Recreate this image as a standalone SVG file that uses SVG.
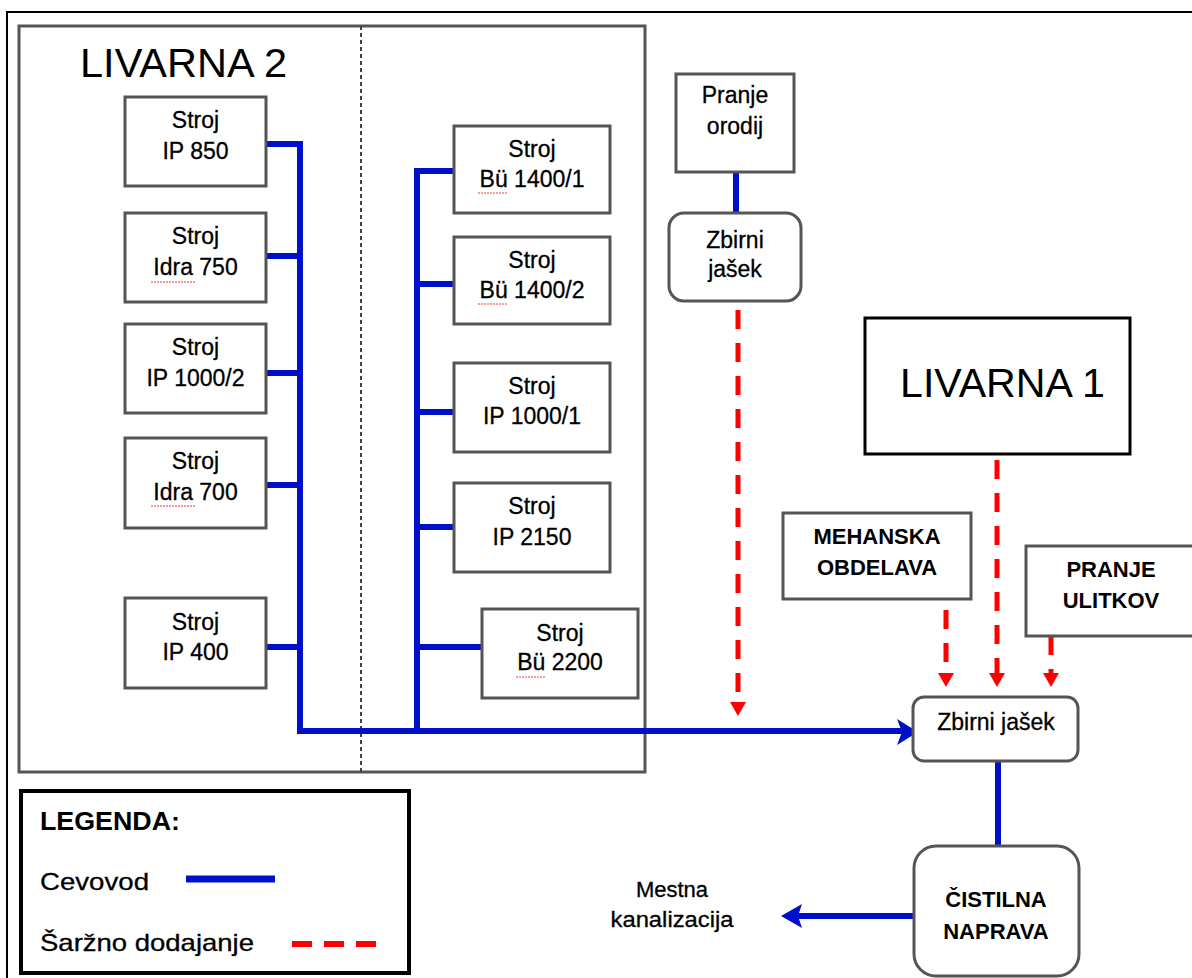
<svg xmlns="http://www.w3.org/2000/svg" width="1192" height="978" viewBox="0 0 1192 978">
<style>
text{font-family:"Liberation Sans",Arial,sans-serif;fill:#000}
.t{font-size:23px;text-anchor:middle;stroke:#000;stroke-width:0.3}
.b{font-size:22px;font-weight:bold;text-anchor:middle}
.box{fill:#fff;stroke:#555;stroke-width:3}
.pipe{fill:none;stroke:#0010c8;stroke-width:6}
.dash{fill:none;stroke:#ff0000;stroke-width:5;stroke-dasharray:19 14}
.sq{fill:none;stroke:#f08080;stroke-width:1.5;stroke-dasharray:2 1}
.rh{fill:#ff0000}
.bh{fill:#0010c8}
</style>
<rect width="1192" height="978" fill="#fff"/>
<rect x="7" y="12" width="1200" height="1000" fill="none" stroke="#000" stroke-width="2"/>
<g id="livarna2">
<rect x="19" y="26" width="626" height="746" fill="none" stroke="#555" stroke-width="3"/>
<line x1="361" y1="26" x2="361" y2="772" stroke="#444" stroke-width="2" stroke-dasharray="4 3"/>
<text x="80" y="77" style="font-size:41px" textLength="207" lengthAdjust="spacingAndGlyphs">LIVARNA 2</text>
</g>
<g id="connectors">
<path class="pipe" d="M266,144 H300 V731 H902 M266,256 H300 M266,373 H300 M266,485 H300 M266,647 H300"/>
<path class="pipe" d="M454,171 H417 V731 M454,284 H417 M454,412 H417 M454,527 H417 M482,647 H417"/>
<path class="bh" d="M918,732 L897,719 L902,732 L897,745 Z"/>
<path class="pipe" d="M736,172 V213"/>
<path class="pipe" d="M998,761 V846"/>
<path class="pipe" d="M914,916 H797"/>
<path class="bh" d="M781,916 L802,904 L798,916 L802,928 Z"/>
<path class="dash" d="M738,310 V704"/>
<path class="rh" d="M730,702 H746 L738,716 Z"/>
<path class="dash" d="M997,460 V674"/>
<path class="rh" d="M989,673 H1005 L997,687 Z"/>
<path class="dash" d="M946,610 V674"/>
<path class="rh" d="M938,673 H954 L946,687 Z"/>
<path class="dash" d="M1051,636 V674"/>
<path class="rh" d="M1043,673 H1059 L1051,687 Z"/>
</g>
<g id="ip850"><rect class="box" x="125" y="97" width="141" height="89"/><text class="t" x="195.5" y="128">Stroj</text><text class="t" x="195.5" y="159">IP 850</text></g>
<g id="idra750"><rect class="box" x="125" y="213" width="141" height="89"/><text class="t" x="195.5" y="244">Stroj</text><text class="t" x="195.5" y="275">Idra 750</text><path class="sq" d="M151,282 H196"/></g>
<g id="ip1000-2"><rect class="box" x="125" y="324" width="141" height="89"/><text class="t" x="195.5" y="355">Stroj</text><text class="t" x="195.5" y="386">IP 1000/2</text></g>
<g id="idra700"><rect class="box" x="125" y="438" width="141" height="90"/><text class="t" x="195.5" y="469">Stroj</text><text class="t" x="195.5" y="500">Idra 700</text><path class="sq" d="M151,506 H196"/></g>
<g id="ip400"><rect class="box" x="125" y="598" width="141" height="90"/><text class="t" x="195.5" y="630">Stroj</text><text class="t" x="195.5" y="660">IP 400</text></g>
<g id="bu1400-1"><rect class="box" x="454" y="126" width="156" height="87"/><text class="t" x="532" y="157">Stroj</text><text class="t" x="532" y="187">Bü 1400/1</text><path class="sq" d="M478,193 H507"/></g>
<g id="bu1400-2"><rect class="box" x="454" y="237" width="156" height="87"/><text class="t" x="532" y="268">Stroj</text><text class="t" x="532" y="298">Bü 1400/2</text><path class="sq" d="M478,304 H507"/></g>
<g id="ip1000-1"><rect class="box" x="454" y="363" width="156" height="89"/><text class="t" x="532" y="394">Stroj</text><text class="t" x="532" y="424">IP 1000/1</text></g>
<g id="ip2150"><rect class="box" x="454" y="483" width="156" height="89"/><text class="t" x="532" y="514">Stroj</text><text class="t" x="532" y="545">IP 2150</text></g>
<g id="bu2200"><rect class="box" x="482" y="609" width="156" height="89"/><text class="t" x="560" y="641">Stroj</text><text class="t" x="560" y="670">Bü 2200</text><path class="sq" d="M516,677 H545"/></g>
<g id="pranje-orodij"><rect class="box" x="676" y="74" width="118" height="98"/><text class="t" x="735" y="103">Pranje</text><text class="t" x="735" y="134">orodij</text></g>
<g id="zbirni-top"><rect class="box" x="669" y="213" width="132" height="88" rx="15"/><text class="t" x="735" y="248">Zbirni</text><text class="t" x="735" y="277">jašek</text></g>
<g id="livarna1"><rect x="865" y="318" width="265" height="136" fill="#fff" stroke="#000" stroke-width="3"/><text x="900" y="397" style="font-size:41px" textLength="205" lengthAdjust="spacingAndGlyphs">LIVARNA 1</text></g>
<g id="mehanska"><rect class="box" x="783" y="513" width="188" height="86"/><text class="b" x="877" y="544">MEHANSKA</text><text class="b" x="877" y="575">OBDELAVA</text></g>
<g id="pranje-ulitkov"><rect class="box" x="1026" y="546" width="180" height="90"/><text class="b" x="1111" y="577">PRANJE</text><text class="b" x="1111" y="608">ULITKOV</text></g>
<g id="zbirni-bottom"><rect class="box" x="913" y="697" width="165" height="64" rx="11"/><text class="t" x="996" y="730">Zbirni jašek</text></g>
<g id="cistilna"><rect class="box" x="914" y="846" width="165" height="130" rx="22"/><text class="b" x="996" y="907">ČISTILNA</text><text class="b" x="996" y="939">NAPRAVA</text></g>
<g id="mestna"><text class="t" x="672" y="897" style="font-size:22px">Mestna</text><text class="t" x="672" y="927" style="font-size:22px" textLength="123" lengthAdjust="spacingAndGlyphs">kanalizacija</text></g>
<g id="legend">
<rect x="21" y="791" width="388" height="182" fill="#fff" stroke="#000" stroke-width="4"/>
<text x="40" y="830" style="font-size:25px;font-weight:bold" textLength="140" lengthAdjust="spacingAndGlyphs">LEGENDA:</text>
<text x="40" y="890" style="font-size:24px;stroke:#000;stroke-width:0.3" textLength="109" lengthAdjust="spacingAndGlyphs">Cevovod</text>
<text x="40" y="951" style="font-size:24px;stroke:#000;stroke-width:0.3" textLength="214" lengthAdjust="spacingAndGlyphs">Šaržno dodajanje</text>
<line x1="186" y1="879" x2="275" y2="879" stroke="#0010c8" stroke-width="7"/>
<line x1="292" y1="944" x2="378" y2="944" stroke="#ff0000" stroke-width="6" stroke-dasharray="20 12"/>
</g>
</svg>
